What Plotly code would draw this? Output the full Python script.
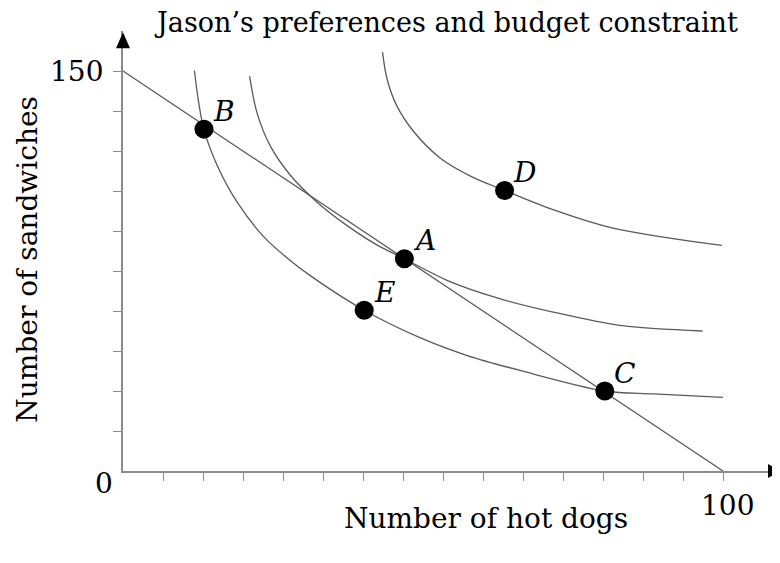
import plotly.graph_objects as go

# budget constraint (hot dogs, sandwiches)
budget_x = [0, 100]
budget_y = [150, 0]

# indifference curves
ic1_x = [11.9, 12.6, 13.5, 15.7, 19.0, 23.4, 27.3, 31.5, 40.2, 49.5, 57.5, 66.2, 80.3, 88.4, 100]
ic1_y = [150.2, 138.4, 127.9, 114.6, 100.9, 88.0, 80.0, 72.8, 60.3, 50.0, 43.2, 37.7, 30.0, 28.9, 27.6]

ic2_x = [21.1, 22.3, 24.5, 27.9, 32.3, 37.3, 42.3, 46.9, 54.0, 62.5, 71.7, 82.8, 96.6]
ic2_y = [148.1, 134.6, 122.1, 110.9, 100.9, 92.1, 84.8, 79.6, 71.5, 64.8, 59.6, 54.6, 52.5]

ic3_x = [43.25, 44.0, 45.6, 48.4, 52.9, 57.9, 63.6, 70.6, 81.7, 99.8]
ic3_y = [157.1, 147.1, 137.1, 127.4, 117.3, 110.6, 105.2, 98.9, 91.1, 84.6]

# labelled bundles
pt_names = ["A", "B", "C", "D", "E"]
pt_x = [46.9, 13.5, 80.3, 63.6, 40.2]
pt_y = [79.6, 128.2, 30.0, 105.2, 60.3]

x_tick_step = 100 / 15
y_tick_step = 15
x_max, y_max = 109.5, 165

FONT = "DejaVu Serif"
LINE = "#5a5a5a"
AXIS = "#8c8c8c"

fig = go.Figure()

fig.add_trace(go.Scatter(x=budget_x, y=budget_y, mode="lines",
                         line=dict(color=LINE, width=1.3), hoverinfo="skip"))
for cx, cy in [(ic1_x, ic1_y), (ic2_x, ic2_y), (ic3_x, ic3_y)]:
    fig.add_trace(go.Scatter(x=cx, y=cy, mode="lines",
                             line=dict(color=LINE, width=1.3, shape="spline", smoothing=0.9),
                             hoverinfo="skip"))

fig.add_trace(go.Scatter(x=pt_x, y=pt_y, mode="markers", text=pt_names,
                         marker=dict(color="black", size=19), cliponaxis=False))


def label(text, size=28, **kw):
    d = dict(text=text, showarrow=False, xanchor="center", yanchor="middle",
             font=dict(family=FONT, size=size, color="black"))
    d.update(kw)
    return d


annotations = []
for name, px, py in zip(pt_names, pt_x, pt_y):
    a = label(name, x=px, y=py, xshift=20, yshift=18)
    a["font"]["style"] = "italic"
    annotations.append(a)

annotations += [
    label("150", x=0, y=150, xshift=-47),
    label("0", x=0, y=0, xshift=-19, yshift=-12),
    label("100", x=100, y=0, xshift=4, yshift=-34),
    label("Jason’s preferences and budget constraint", size=27,
          x=0.492, y=1.02, xref="paper", yref="paper"),
    label("Number of hot dogs", x=0.553, y=-0.1075, xref="paper", yref="paper"),
    label("Number of sandwiches", x=-0.1456, y=0.481, xref="paper", yref="paper",
          textangle=-90),
]

# filled arrowheads at the ends of both axes
shapes = [
    dict(type="path", xref="paper", yref="paper", xsizemode="pixel", ysizemode="pixel",
         xanchor=107.5 / x_max, yanchor=0, path="M 0 -7 L 12 0 L 0 7 Z",
         fillcolor="black", line=dict(width=0)),
    dict(type="path", xref="paper", yref="paper", xsizemode="pixel", ysizemode="pixel",
         xanchor=0, yanchor=158.5 / y_max, path="M -7 0 L 0 16 L 7 0 Z",
         fillcolor="black", line=dict(width=0)),
]

fig.update_layout(
    width=780, height=563,
    margin=dict(l=114.7, r=8, t=22.7, b=100.3, autoexpand=False),
    plot_bgcolor="white", paper_bgcolor="white",
    showlegend=False,
    annotations=annotations,
    shapes=shapes,
    xaxis=dict(range=[0, x_max], showgrid=False, zeroline=False, showline=True, automargin=False,
               linecolor=AXIS, linewidth=1.5, ticks="outside", tickcolor=AXIS, ticklen=8,
               tickwidth=1.2, tickmode="array",
               tickvals=[x_tick_step * k for k in range(1, 16)], showticklabels=False),
    yaxis=dict(range=[0, y_max], showgrid=False, zeroline=False, showline=True, automargin=False,
               linecolor=AXIS, linewidth=1.5, ticks="outside", tickcolor=AXIS, ticklen=8,
               tickwidth=1.2, tickmode="array",
               tickvals=[y_tick_step * k for k in range(1, 11)], showticklabels=False),
)

fig.write_html("out.html")
